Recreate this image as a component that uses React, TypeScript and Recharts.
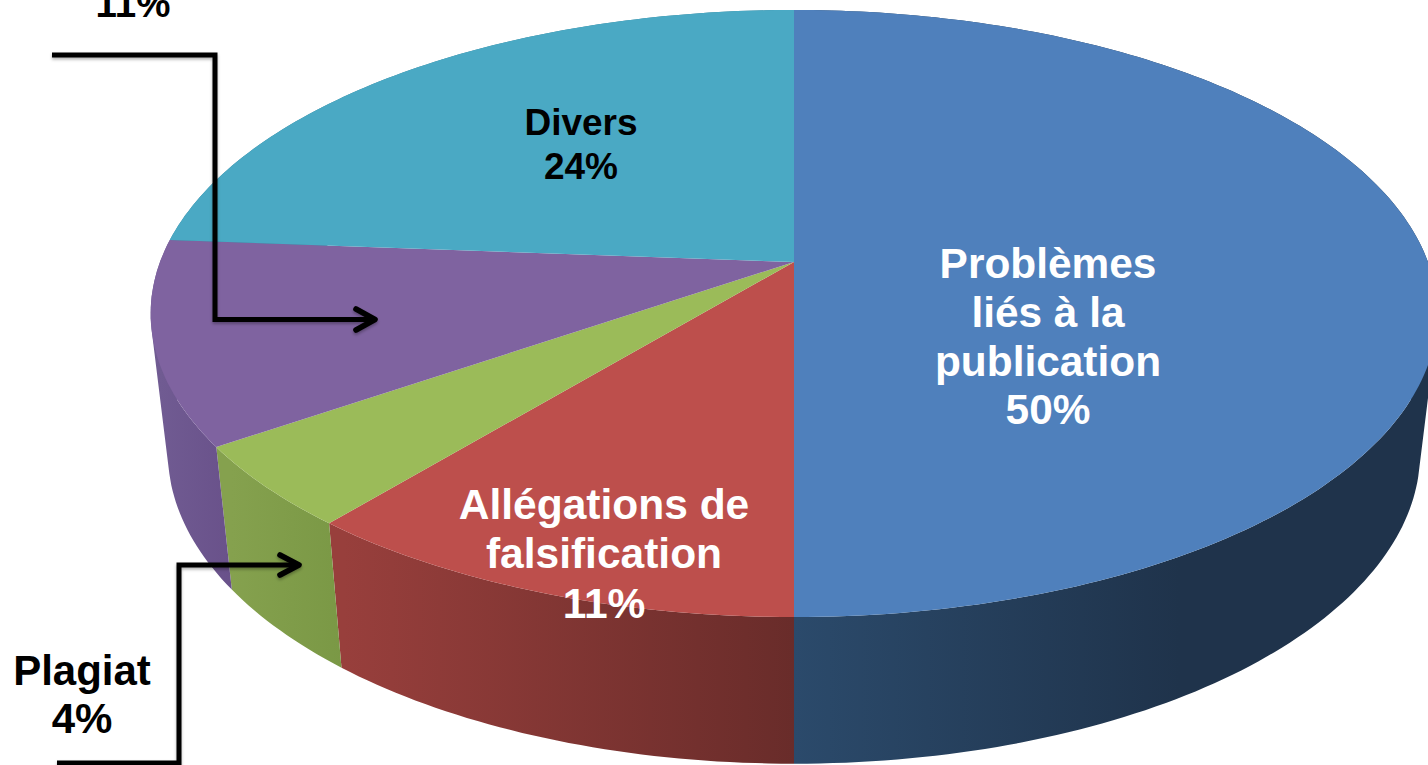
import { PieChart, Pie } from 'recharts';

const WIDTH = 1428;
const HEIGHT = 765;

// clockwise from 12 o'clock
const categories = ['Problèmes liés à la publication', 'Allégations de falsification', 'Plagiat', 'Autres', 'Divers'];
const shares = [50, 11, 4.4, 10.8, 23.8];
const topColors = ['#4f80bc', '#bd4f4c', '#9bbb59', '#7f63a0', '#4aa9c4'];
const wallFrom = ['#2b4a6b', '#983f3c', '#85a14e', '#705b92', '#3a8298'];
const wallTo = ['#1f334b', '#692c2a', '#7a9845', '#69518a', '#3a8298'];

// gradient span of each wall on the x axis
const wallSpan = [[794, 1180], [343, 794], [232, 343], [160, 232], [160, 794]];

const labelLines = [
    ['Problèmes', 'liés à la', 'publication', '50%'],
    ['Allégations de', 'falsification', '11%'],
    ['Plagiat', '4%'],
    ['11%'],
    ['Divers', '24%'],
];
const labelColors = ['#ffffff', '#ffffff', '#000000', '#000000', '#000000'];
const labelSizes = [42.4, 42.5, 42, 38.5, 37];
const labelSteps = [48.8, 49.3, 48, 45, 44];
const labelAnchors = [[1048, 278], [604, 519], [82, 685], [133, 17], [581, 135]];

// leader lines with open arrow heads, only for the two outside labels
const leaderLines = ['', '', 'M57,763H179V565H296', 'M52,55H215V319.5H372', ''];
const leaderHeads = ['', '', 'M280,555L299,565L280,575', 'M356,309L375,319.5L356,330', ''];

// perspective of the disc: top face and bottom face
const PERSPECTIVE = -0.1697;
const topFace = { rx: 634, ry: 294.8, dy: 0 };
const bottomFace = { rx: 617, ry: 302, dy: 138 };

type Face = typeof topFace;

const project = (cx: number, cy: number, deg: number, face: Face) => {
    const a = (deg * Math.PI) / 180;
    const X = Math.cos(a);
    const Y = -Math.sin(a);
    const w = 1 + PERSPECTIVE * Y;
    return [cx + (face.rx * X) / w, cy + face.dy + (face.ry * Y) / w];
};

const arc = (cx: number, cy: number, from: number, to: number, face: Face) => {
    const n = Math.max(2, Math.ceil(Math.abs(to - from)));
    const pts: number[][] = [];
    for (let i = 0; i <= n; i++) {
        pts.push(project(cx, cy, from + ((to - from) * i) / n, face));
    }
    return pts;
};

const toPath = (pts: number[][]) =>
    'M' + pts.map((p) => `${p[0].toFixed(1)},${p[1].toFixed(1)}`).join('L') + 'Z';

// signed area, so that every quad of a wall winds the same way
const area = (pts: number[][]) =>
    pts.reduce((sum, p, i) => {
        const q = pts[(i + 1) % pts.length];
        return sum + p[0] * q[1] - q[0] * p[1];
    }, 0);

function TopSlice(props: any) {
    const { cx, cy, startAngle, endAngle, index } = props;
    const pts = [[cx, cy], ...arc(cx, cy, startAngle, endAngle, topFace)];
    return <path d={toPath(pts)} fill={topColors[index]} />;
}

function WallSlice(props: any) {
    const { cx, cy, startAngle, endAngle, index } = props;
    const upper = arc(cx, cy, startAngle, endAngle, topFace);
    const lower = arc(cx, cy, startAngle, endAngle, bottomFace);
    // the two arcs cross at the sides, so the wall is the union of small quads
    const quads = upper.slice(1).map((p, i) => {
        const quad = [upper[i], p, lower[i + 1], lower[i]];
        return toPath(area(quad) < 0 ? quad.reverse() : quad);
    });
    const [x1, x2] = wallSpan[index];
    return (
        <g>
            <defs>
                <linearGradient id={`wall-${index}`} gradientUnits="userSpaceOnUse" x1={x1} x2={x2} y1={0} y2={0}>
                    <stop offset="0%" stopColor={wallFrom[index]} />
                    <stop offset="100%" stopColor={wallTo[index]} />
                </linearGradient>
            </defs>
            <path d={quads.join('')} fill={`url(#wall-${index})`} />
        </g>
    );
}

function SliceLabel(props: any) {
    const { index } = props;
    const [x, y] = labelAnchors[index];
    const line = { fill: 'none', stroke: '#000', strokeWidth: 5 };
    return (
        <g>
            {leaderLines[index] && (
                <g filter={`url(#leader-shadow-${index})`}>
                    <defs>
                        <filter id={`leader-shadow-${index}`} filterUnits="userSpaceOnUse" x="0" y="0" width={WIDTH} height={HEIGHT}>
                            <feDropShadow dx="0" dy="2" stdDeviation="1.5" floodColor="#000" floodOpacity="0.3" />
                        </filter>
                    </defs>
                    <path d={leaderLines[index]} {...line} />
                    <path d={leaderHeads[index]} {...line} strokeWidth={5.6} strokeLinecap="round" strokeLinejoin="round" />
                </g>
            )}
            <text
                x={x}
                y={y}
                textAnchor="middle"
                fill={labelColors[index]}
                fontFamily="'Liberation Sans', Arial, sans-serif"
                fontWeight="bold"
                fontSize={labelSizes[index]}
            >
                {labelLines[index].map((text, i) => (
                    <tspan key={i} x={x} y={y + i * labelSteps[index]}>{text}</tspan>
                ))}
            </text>
        </g>
    );
}

const table = categories.map((name, i) => ({ name, value: shares[i] }));

export default function App() {
    return (
        <div style={{ position: 'absolute', left: 0, top: 0, width: WIDTH, height: HEIGHT, overflow: 'hidden', background: '#fff' }}>
            <PieChart width={WIDTH} height={HEIGHT} margin={{ top: 0, right: 0, bottom: 0, left: 0 }}>
                <Pie
                    data={table}
                    dataKey="value"
                    nameKey="name"
                    cx={794}
                    cy={262}
                    outerRadius={300}
                    startAngle={90}
                    endAngle={-270}
                    stroke="none"
                    shape={WallSlice}
                    isAnimationActive={false}
                />
                <Pie
                    data={table}
                    dataKey="value"
                    nameKey="name"
                    cx={794}
                    cy={262}
                    outerRadius={300}
                    startAngle={90}
                    endAngle={-270}
                    stroke="none"
                    shape={TopSlice}
                    label={SliceLabel}
                    labelLine={false}
                    isAnimationActive={false}
                />
            </PieChart>
        </div>
    );
}
